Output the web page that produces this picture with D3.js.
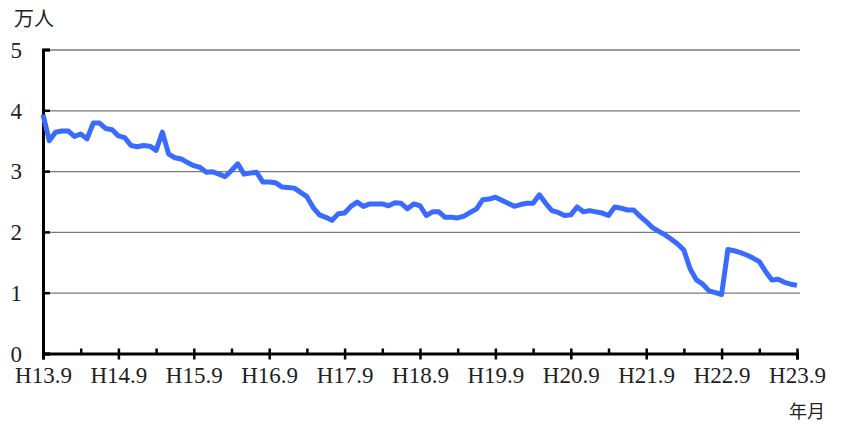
<!DOCTYPE html>
<html><head><meta charset="utf-8">
<script src="https://cdn.jsdelivr.net/npm/d3@7"></script>
<style>
html,body{margin:0;padding:0;background:#fff;}
svg{display:block;}
</style></head>
<body>
<svg id="chart" width="843" height="425"></svg>
<script>
// Monthly values (万人), H13.9 .. H23.9
const values = [
 3.93,3.50,3.64,3.66,3.66,3.57,3.61,3.53,3.79,3.79,3.70,3.68,
 3.58,3.55,3.42,3.40,3.42,3.41,3.34,3.64,3.28,3.22,3.20,3.14,
 3.09,3.06,2.98,2.99,2.95,2.91,3.01,3.12,2.95,2.97,2.98,2.82,
 2.82,2.81,2.74,2.73,2.72,2.65,2.58,2.40,2.28,2.24,2.19,2.30,
 2.31,2.42,2.49,2.42,2.46,2.46,2.46,2.43,2.48,2.47,2.38,2.46,
 2.43,2.27,2.33,2.33,2.24,2.24,2.23,2.26,2.32,2.38,2.53,2.54,
 2.57,2.52,2.47,2.42,2.45,2.47,2.47,2.61,2.47,2.35,2.32,2.27,
 2.28,2.41,2.33,2.35,2.33,2.31,2.27,2.41,2.39,2.36,2.36,2.26,
 2.17,2.07,2.01,1.95,1.88,1.80,1.70,1.39,1.21,1.14,1.03,1.00,
 0.97,1.71,1.69,1.66,1.62,1.57,1.51,1.35,1.21,1.22,1.17,1.14,
 1.12
];
const xTickLabels = ["H13.9","H14.9","H15.9","H16.9","H17.9","H18.9","H19.9","H20.9","H21.9","H22.9","H23.9"];
const yTicks = [0,1,2,3,4,5];
const yUnit = "万人";
const xUnit = "年月";

const svg = d3.select("#chart");
const x = d3.scaleLinear().domain([0, values.length - 1]).range([43, 797]);
const y = d3.scaleLinear().domain([0, 5]).range([353.5, 49.5]);

// gridlines
const grid = svg.append("g").attr("transform", `translate(43,0)`)
  .call(d3.axisLeft(y).tickValues(yTicks.filter(d => d > 0)).tickSize(-757).tickFormat(""));
grid.select(".domain").remove();
grid.selectAll("line").attr("stroke", "#7a7a7a").attr("stroke-width", 1.3);

// y axis
const yAxis = svg.append("g").attr("transform", `translate(43,0)`)
  .call(d3.axisLeft(y).tickValues(yTicks).tickSize(-7).tickPadding(0).tickFormat(d3.format("d")));
yAxis.attr("font-family", "Liberation Serif").attr("font-size", 23);
yAxis.select(".domain").attr("stroke", "#000").attr("stroke-width", 3);
yAxis.selectAll(".tick line").attr("stroke", "#000").attr("stroke-width", 2.5);
yAxis.selectAll(".tick text").attr("x", -21).attr("dy", "0.34em").attr("fill", "#222");

// x axis: major ticks (years, outward) with labels
const yearTicks = xTickLabels.map((_, i) => i * 12);
const xAxis = svg.append("g").attr("transform", `translate(0,${y(0)})`)
  .call(d3.axisBottom(x).tickValues(yearTicks).tickSize(6).tickFormat((d, i) => xTickLabels[i]));
xAxis.attr("font-family", "Liberation Serif").attr("font-size", 23);
xAxis.select(".domain").attr("stroke", "#000").attr("stroke-width", 3);
xAxis.selectAll(".tick line").attr("stroke", "#000").attr("stroke-width", 2.5);
xAxis.selectAll(".tick text").attr("y", 29.5).attr("dy", 0).attr("fill", "#222");

// minor ticks (half years, inward)
const halfTicks = d3.range(0, values.length, 6);
const xMinor = svg.append("g").attr("transform", `translate(0,${y(0)})`)
  .call(d3.axisBottom(x).tickValues(halfTicks).tickSize(-5).tickFormat(""));
xMinor.select(".domain").remove();
xMinor.selectAll(".tick line").attr("stroke", "#000").attr("stroke-width", 2.5);

// data line
const line = d3.line().x((d, i) => x(i)).y(d => y(d));
svg.append("path").datum(values)
  .attr("d", line).attr("fill", "none")
  .attr("stroke", "#3A6BFF").attr("stroke-width", 5)
  .attr("stroke-linejoin", "round");

// unit labels
svg.append("text").attr("x", 14).attr("y", 26).text(yUnit)
  .attr("font-family", "Noto Sans CJK JP").attr("font-size", 20).attr("fill", "#222");
svg.append("text").attr("x", 789).attr("y", 418).text(xUnit)
  .attr("font-family", "Noto Sans CJK JP").attr("font-size", 18).attr("fill", "#222");
</script>
</body></html>
